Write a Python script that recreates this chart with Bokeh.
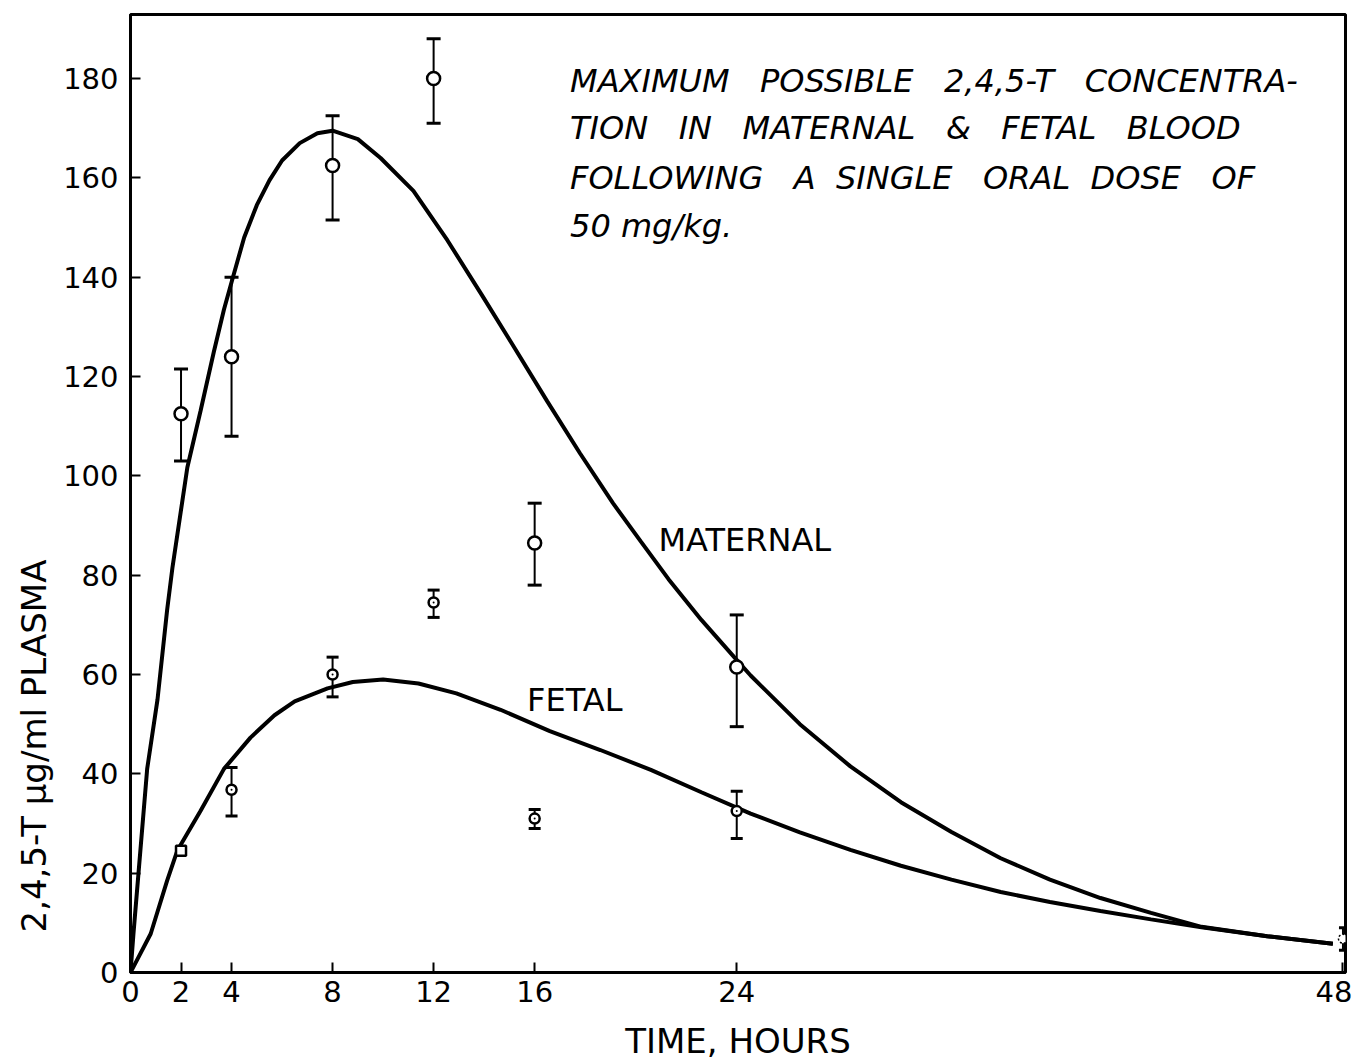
from bokeh.plotting import figure
from bokeh.models import ColumnDataSource, Whisker, TeeHead, FixedTicker, Range1d, Title
from bokeh.core.properties import value
from bokeh.embed import file_html
from bokeh.resources import INLINE

# ---- data ----
x_ticks = [0, 2, 4, 8, 12, 16, 24, 48]
y_ticks = [0, 20, 40, 60, 80, 100, 120, 140, 160, 180]

maternal_t = [2, 4, 8, 12, 16, 24]
maternal_y = [112.5, 124, 162.5, 180, 86.5, 61.5]
maternal_lo = [103, 108, 151.5, 171, 78, 49.5]
maternal_hi = [121.5, 140, 172.5, 188, 94.5, 72]

fetal_t = [4, 8, 12, 16, 24]
fetal_y = [36.8, 60, 74.5, 31, 32.5]
fetal_lo = [31.5, 55.5, 71.5, 29, 27]
fetal_hi = [41.3, 63.5, 77, 32.8, 36.5]

fetal_sq_t = [2]
fetal_sq_y = [24.5]

end_t = [48]
end_y = [6.8]
end_lo = [4.5]
end_hi = [9]

maternal_curve_t = [0, 0.12, 0.66, 1.07, 1.45, 1.66, 2.25, 2.77, 3.3, 3.7, 4.0, 4.5,
                    5.0, 5.5, 6.0, 6.7, 7.4, 8.0, 9.0, 9.9, 11.2, 12.55, 13.9, 15.2,
                    16.5, 17.8, 19.1, 20.2, 21.3, 22.6, 23.9, 24.55, 26.5, 28.5, 30.5,
                    32.5, 34.45, 36.4, 38.4, 40.4, 42.4, 45.0, 47.6]
maternal_curve_y = [0, 8, 41, 55, 73, 81.5, 101.7, 113, 125, 133.5, 139, 148,
                    154.5, 159.5, 163.5, 167, 169, 169.5, 167.8, 164, 157.4, 147.4,
                    136.5, 125.8, 115, 104.5, 94.5, 86.8, 79.2, 71, 63.5, 59.8, 50,
                    41.5, 34.3, 28.3, 23, 18.7, 15, 12, 9.2, 7.3, 5.8]

fetal_curve_t = [0, 0.8, 1.45, 1.85, 2.77, 3.7, 4.75, 5.7, 6.5, 7.8, 8.8, 10.0,
                 11.4, 12.9, 14.65, 16.6, 18.6, 20.6, 22.6, 24.55, 26.5, 28.5, 30.5,
                 32.5, 34.45, 36.4, 38.4, 40.4, 42.4, 45.0, 47.6]
fetal_curve_y = [0, 7.8, 18.5, 24.5, 32.5, 41, 47.3, 51.8, 54.6, 57.2, 58.5, 59,
                 58.2, 56.2, 52.9, 48.6, 44.8, 40.8, 36.3, 32, 28.2, 24.7, 21.5,
                 18.7, 16.2, 14.2, 12.4, 10.7, 9.1, 7.3, 5.8]

NB = "\u00a0"
title_lines = ["MAXIMUM " + NB * 2 + "POSSIBLE " + NB * 2 + "2,4,5-T " + NB * 2 + "CONCENTRA-",
               "TION " + NB * 2 + "IN " + NB * 2 + "MATERNAL " + NB * 2 + "& " + NB * 2
               + "FETAL " + NB * 2 + "BLOOD",
               "FOLLOWING " + NB * 2 + "A " + NB + "SINGLE " + NB * 2 + "ORAL " + NB
               + "DOSE " + NB * 2 + "OF",
               "50 mg/kg."]
title_x = [17.4, 17.4, 17.4, 17.4]
title_y = [179.6, 170, 160, 150.3]

FONT = "DejaVu Sans"

p = figure(width=1352, height=1064, output_backend="svg", toolbar_location=None,
           x_range=Range1d(0, 48.1), y_range=Range1d(0, 192.9),
           min_border_left=130, min_border_right=7, min_border_top=14,
           min_border_bottom=92)
p.background_fill_color = "white"
p.border_fill_color = "white"
p.grid.visible = False
p.outline_line_color = "black"
p.outline_line_width = 3

for ax in (p.xaxis, p.yaxis):
    ax.axis_line_width = 3
    ax.axis_line_color = "black"
    ax.major_tick_line_width = 2
    ax.major_tick_out = 0
    ax.major_tick_in = 10
    ax.minor_tick_out = 0
    ax.minor_tick_in = 0
    ax.major_label_text_font = FONT
    ax.major_label_text_color = "black"
    ax.axis_label_text_font = FONT
    ax.axis_label_text_font_style = "normal"
    ax.axis_label_text_color = "black"

p.xaxis.ticker = FixedTicker(ticks=x_ticks)
p.yaxis.ticker = FixedTicker(ticks=y_ticks)
p.xaxis.major_label_text_font_size = "29px"
p.yaxis.major_label_text_font_size = "29px"
p.xaxis.major_label_standoff = 8
p.yaxis.major_label_standoff = 12
p.xaxis.axis_label = "TIME, HOURS"
p.xaxis.axis_label_text_font_size = "34px"
p.xaxis.axis_label_standoff = 16

# y-axis title, placed lower as in the original
ytitle = Title(text="2,4,5-T µg/ml PLASMA", align="left", offset=40,
               text_font=FONT, text_font_size="34px", text_font_style="normal",
               text_color="black", standoff=14)
p.add_layout(ytitle, "left")

# curves
p.line(maternal_curve_t, maternal_curve_y, line_color="black", line_width=4)
p.line(fetal_curve_t, fetal_curve_y, line_color="black", line_width=4)

# error bars
msrc = ColumnDataSource(dict(t=maternal_t, y=maternal_y, lo=maternal_lo, hi=maternal_hi))
fsrc = ColumnDataSource(dict(t=fetal_t, y=fetal_y, lo=fetal_lo, hi=fetal_hi))
esrc = ColumnDataSource(dict(t=end_t, y=end_y, lo=end_lo, hi=end_hi))
for src, cap in ((msrc, 14), (fsrc, 12), (esrc, 8)):
    w = Whisker(source=src, base="t", upper="hi", lower="lo", line_color="black",
                line_width=2,
                upper_head=TeeHead(size=cap, line_width=3, line_color="black"),
                lower_head=TeeHead(size=cap, line_width=3, line_color="black"))
    p.add_layout(w)

# markers
p.scatter("t", "y", source=msrc, marker="circle", size=13, fill_color="white",
          line_color="black", line_width=2.5)
p.scatter("t", "y", source=fsrc, marker="circle", size=10, fill_color="white",
          line_color="black", line_width=2.5)
p.scatter("t", "y", source=fsrc, marker="dot", size=8, line_color="black",
          fill_color="black")
p.scatter(fetal_sq_t, fetal_sq_y, marker="square", size=10, fill_color="white",
          line_color="black", line_width=2.5)
p.scatter("t", "y", source=esrc, marker="circle", size=9, fill_color="white",
          line_color="black", line_width=1.5, line_dash="2 2")

# annotation text
p.text(title_x, title_y, text=title_lines, text_font=value(FONT),
       text_font_style="italic", text_font_size="32px", text_color="black",
       text_baseline="middle", text_align="left")
p.text([20.9], [87], text=["MATERNAL"], text_font=value(FONT),
       text_font_size="32px", text_color="black", text_baseline="middle")
p.text([15.7], [54.8], text=["FETAL"], text_font=value(FONT),
       text_font_size="32px", text_color="black", text_baseline="middle")

open("out.html", "w").write(file_html(p, INLINE))
